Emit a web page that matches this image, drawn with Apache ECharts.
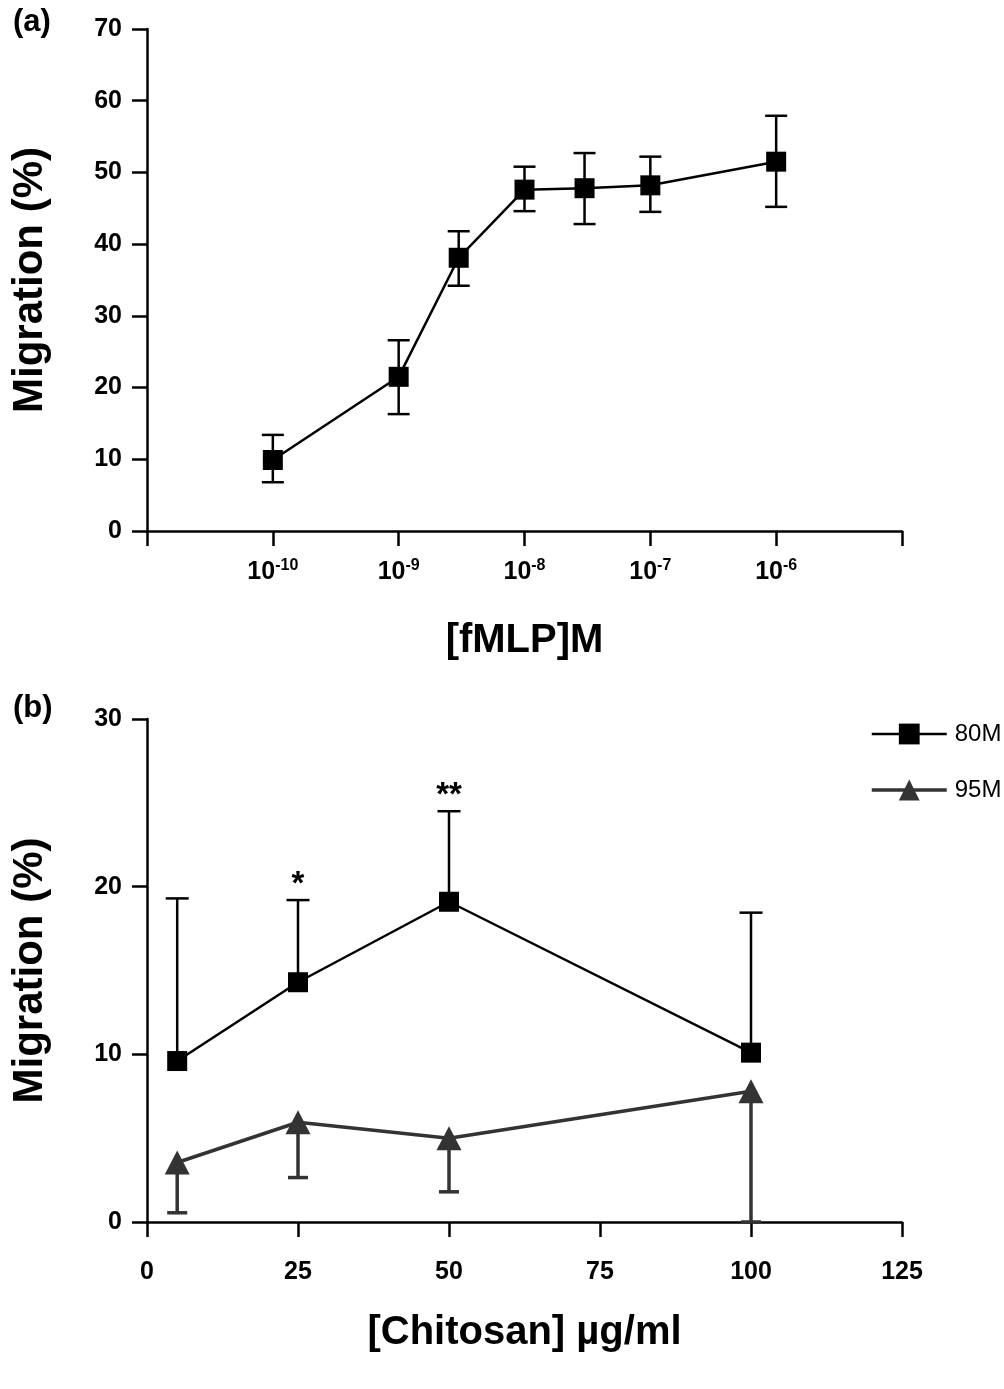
<!DOCTYPE html>
<html><head><meta charset="utf-8">
<script src="https://cdn.jsdelivr.net/npm/echarts@6/dist/echarts.min.js"></script>
<style>html,body{margin:0;padding:0;background:#fff}#c{width:1004px;height:1389px}</style>
</head><body><div id="c"></div>
<script>
// ---- Panel (a): fMLP dose response ----
const fmlpConc = [1e-10, 1e-9, 3e-9, 1e-8, 3e-8, 1e-7, 1e-6];
const fmlpMean = [9.9, 21.5, 38.1, 47.6, 47.8, 48.2, 51.5];
const fmlpErrHigh = [13.4, 26.6, 41.8, 50.8, 52.7, 52.2, 57.9];
const fmlpErrLow = [6.8, 16.3, 34.2, 44.6, 42.8, 44.5, 45.2];
const fmlpAxisMin = 1e-11, fmlpAxisMax = 1e-5;
const fmlpLabelExponents = [-10, -9, -8, -7, -6];
const yTicksA = [0, 70, 10];
// ---- Panel (b): chitosan ----
const chitosanDose = [5, 25, 50, 100];
const m80Mean = [9.6, 14.3, 19.1, 10.1];
const m80ErrHigh = [19.3, 19.2, 24.5, 18.45];
const m95Mean = [3.55, 5.95, 5.0, 7.8];
const m95ErrLow = [0.55, 2.65, 1.8, 0];
const annotations = [[25, 19.2, '*'], [50, 24.5, '**']];
const yTicksB = [0, 30, 10];
const xTicksB = [0, 125, 25];

const FONT = '"Liberation Sans", Arial, Helvetica, sans-serif';
const AX = {lineStyle: {color: '#000', width: 2.5}};
const TICK = {show: true, length: 15, lineStyle: {color: '#000', width: 2.5}};
const LBL = {color: '#000', fontFamily: FONT, fontSize: 25, fontWeight: 'bold'};
const XNAME = {color: '#000', fontFamily: FONT, fontSize: 40, fontWeight: 'bold'};
const YNAME = {color: '#000', fontFamily: FONT, fontSize: 42, fontWeight: 'bold'};

function errRender(capW, color, lw, bothCaps) {
  return function (params, api) {
    const x = api.value(0);
    const a = api.coord([x, api.value(1)]);
    const b = api.coord([x, api.value(2)]);
    const h = capW / 2;
    const st = {stroke: color, lineWidth: lw};
    const ch = [
      {type: 'line', shape: {x1: a[0], y1: a[1], x2: b[0], y2: b[1]}, style: st},
      {type: 'line', shape: {x1: b[0] - h, y1: b[1], x2: b[0] + h, y2: b[1]}, style: st}
    ];
    if (bothCaps) ch.push({type: 'line', shape: {x1: a[0] - h, y1: a[1], x2: a[0] + h, y2: a[1]}, style: st});
    return {type: 'group', children: ch};
  };
}

const chart = echarts.init(document.getElementById('c'), null, {renderer: 'canvas'});
chart.setOption({
  backgroundColor: '#fff',
  animation: false,
  title: [
    {text: '(a)', left: 8, top: 2, textStyle: {fontFamily: FONT, fontSize: 31, fontWeight: 'bold', color: '#000'}},
    {text: '(b)', left: 8, top: 688, textStyle: {fontFamily: FONT, fontSize: 31, fontWeight: 'bold', color: '#000'}}
  ],
  legend: {
    data: [
      {name: '80M', lineStyle: {width: 2.5}},
      {name: '95M', lineStyle: {width: 3.5}}
    ],
    orient: 'vertical', left: 865, top: 717,
    itemWidth: 75, itemHeight: 26, itemGap: 32,
    textStyle: {fontFamily: FONT, fontSize: 24, color: '#000', padding: [0, 0, 0, 3]}
  },
  grid: [
    {left: 147, top: 29, width: 755, height: 502},
    {left: 147, top: 719, width: 755, height: 503}
  ],
  xAxis: [
    {
      gridIndex: 0, type: 'log', logBase: 10, min: fmlpAxisMin, max: fmlpAxisMax,
      axisLine: AX, axisTick: TICK, splitLine: {show: false},
      axisLabel: {
        margin: 27,
        formatter: function (v) {
          const e = Math.round(Math.log10(v));
          if (fmlpLabelExponents.indexOf(e) < 0) return '';
          return '{b|10}{s|' + e + '}';
        },
        rich: {
          b: {fontFamily: FONT, fontSize: 25, fontWeight: 'bold', color: '#000', lineHeight: 27, verticalAlign: 'bottom'},
          s: {fontFamily: FONT, fontSize: 16, fontWeight: 'bold', color: '#000', lineHeight: 16, verticalAlign: 'top'}
        }
      },
      name: '[fMLP]M', nameLocation: 'middle', nameGap: 90, nameTextStyle: XNAME
    },
    {
      gridIndex: 1, type: 'value', min: xTicksB[0], max: xTicksB[1], interval: xTicksB[2],
      axisLine: AX, axisTick: TICK, splitLine: {show: false},
      axisLabel: Object.assign({margin: 38}, LBL),
      name: '[Chitosan] µg/ml', nameLocation: 'middle', nameGap: 91, nameTextStyle: XNAME
    }
  ],
  yAxis: [
    {
      gridIndex: 0, type: 'value', min: yTicksA[0], max: yTicksA[1], interval: yTicksA[2],
      axisLine: Object.assign({show: true}, AX), axisTick: TICK, splitLine: {show: false},
      axisLabel: Object.assign({margin: 25}, LBL),
      name: 'Migration (%)', nameLocation: 'middle', nameGap: 96, nameTextStyle: YNAME
    },
    {
      gridIndex: 1, type: 'value', min: yTicksB[0], max: yTicksB[1], interval: yTicksB[2],
      axisLine: Object.assign({show: true}, AX), axisTick: TICK, splitLine: {show: false},
      axisLabel: Object.assign({margin: 25}, LBL),
      name: 'Migration (%)', nameLocation: 'middle', nameGap: 96, nameTextStyle: YNAME
    }
  ],
  series: [
    {
      type: 'custom', xAxisIndex: 0, yAxisIndex: 0, z: 1, silent: true,
      renderItem: errRender(22, '#000', 2.5, true),
      encode: {x: 0, y: [1, 2]},
      data: fmlpConc.map((c, i) => [c, fmlpErrLow[i], fmlpErrHigh[i]])
    },
    {
      name: 'fMLP', type: 'line', xAxisIndex: 0, yAxisIndex: 0, z: 3,
      symbol: 'rect', symbolSize: 20,
      itemStyle: {color: '#000'}, lineStyle: {color: '#000', width: 2.5},
      data: fmlpConc.map((c, i) => [c, fmlpMean[i]])
    },
    {
      type: 'custom', xAxisIndex: 1, yAxisIndex: 1, z: 1, silent: true,
      renderItem: errRender(23, '#000', 2.5, false),
      encode: {x: 0, y: [1, 2]},
      data: chitosanDose.map((d, i) => [d, m80Mean[i], m80ErrHigh[i]])
    },
    {
      type: 'custom', xAxisIndex: 1, yAxisIndex: 1, z: 1, silent: true,
      renderItem: errRender(20, '#333', 3.5, false),
      encode: {x: 0, y: [1, 2]},
      data: chitosanDose.map((d, i) => [d, m95Mean[i], m95ErrLow[i]])
    },
    {
      name: '80M', type: 'line', xAxisIndex: 1, yAxisIndex: 1, z: 3,
      symbol: 'rect', symbolSize: 20,
      itemStyle: {color: '#000'}, lineStyle: {color: '#000', width: 2.5},
      data: chitosanDose.map((d, i) => [d, m80Mean[i]])
    },
    {
      name: '95M', type: 'line', xAxisIndex: 1, yAxisIndex: 1, z: 3,
      symbol: 'triangle', symbolSize: [25, 24],
      itemStyle: {color: '#333'}, lineStyle: {color: '#333', width: 3.5},
      data: chitosanDose.map((d, i) => [d, m95Mean[i]])
    },
    {
      type: 'custom', xAxisIndex: 1, yAxisIndex: 1, z: 4, silent: true,
      renderItem: function (params, api) {
        const p = api.coord([api.value(0), api.value(1)]);
        return {
          type: 'text', x: p[0], y: p[1] - 15,
          style: {text: annotations[params.dataIndex][2], fontFamily: FONT, fontSize: 33, fontWeight: 'bold',
                  fill: '#000', align: 'center', verticalAlign: 'middle'}
        };
      },
      encode: {x: 0, y: 1},
      data: annotations.map(a => [a[0], a[1]])
    }
  ]
});
</script>
</body></html>
